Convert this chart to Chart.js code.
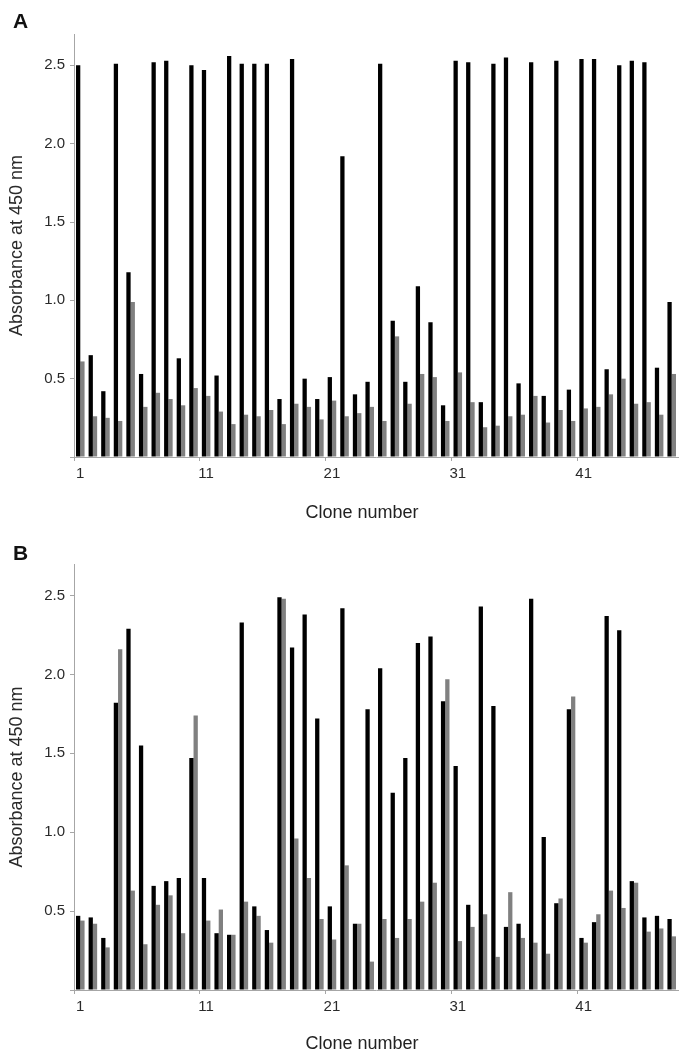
<!DOCTYPE html>
<html>
<head>
<meta charset="utf-8">
<script src="https://cdn.jsdelivr.net/npm/chart.js@4.4.1/dist/chart.umd.min.js"></script>
<style>
  body { margin: 0; background: #fff; font-family: "Liberation Sans", Arial, sans-serif; }
  #page { position: relative; width: 685px; height: 1058px; overflow: hidden; }
  canvas { position: absolute; left: 0; }
  .panel-label { position: absolute; left: 13px; font-weight: bold; font-size: 21px; line-height: 1; color: #111; }
  .x-title { position: absolute; left: 262px; width: 200px; text-align: center; font-size: 18px; line-height: 1; color: #222; }
</style>
</head>
<body>
<div id="page">
  <canvas id="chartA" width="685" height="530" style="top:0"></canvas>
  <canvas id="chartB" width="685" height="528" style="top:530px"></canvas>
  <div class="panel-label" style="top:10px">A</div>
  <div class="panel-label" style="top:542px">B</div>
  <div class="x-title" style="top:503px">Clone number</div>
  <div class="x-title" style="top:1034px">Clone number</div>
</div>
<script>
const CLONES = Array.from({ length: 48 }, (_, i) => String(i + 1));
const Y_TICKS = [0, 0.5, 1.0, 1.5, 2.0, 2.5];

// panel A
const A_BLACK = [
    2.50, 0.65, 0.42, 2.51, 1.18, 0.53, 2.52, 2.53, 0.63, 2.50,
    2.47, 0.52, 2.56, 2.51, 2.51, 2.51, 0.37, 2.54, 0.50, 0.37,
    0.51, 1.92, 0.40, 0.48, 2.51, 0.87, 0.48, 1.09, 0.86, 0.33,
    2.53, 2.52, 0.35, 2.51, 2.55, 0.47, 2.52, 0.39, 2.53, 0.43,
    2.54, 2.54, 0.56, 2.50, 2.53, 2.52, 0.57, 0.99,
];
const A_GRAY = [
    0.61, 0.26, 0.25, 0.23, 0.99, 0.32, 0.41, 0.37, 0.33, 0.44,
    0.39, 0.29, 0.21, 0.27, 0.26, 0.30, 0.21, 0.34, 0.32, 0.24,
    0.36, 0.26, 0.28, 0.32, 0.23, 0.77, 0.34, 0.53, 0.51, 0.23,
    0.54, 0.35, 0.19, 0.20, 0.26, 0.27, 0.39, 0.22, 0.30, 0.23,
    0.31, 0.32, 0.40, 0.50, 0.34, 0.35, 0.27, 0.53,
];

// panel B
const B_BLACK = [
    0.47, 0.46, 0.33, 1.82, 2.29, 1.55, 0.66, 0.69, 0.71, 1.47,
    0.71, 0.36, 0.35, 2.33, 0.53, 0.38, 2.49, 2.17, 2.38, 1.72,
    0.53, 2.42, 0.42, 1.78, 2.04, 1.25, 1.47, 2.20, 2.24, 1.83,
    1.42, 0.54, 2.43, 1.80, 0.40, 0.42, 2.48, 0.97, 0.55, 1.78,
    0.33, 0.43, 2.37, 2.28, 0.69, 0.46, 0.47, 0.45,
];
const B_GRAY = [
    0.44, 0.42, 0.27, 2.16, 0.63, 0.29, 0.54, 0.60, 0.36, 1.74,
    0.44, 0.51, 0.35, 0.56, 0.47, 0.30, 2.48, 0.96, 0.71, 0.45,
    0.32, 0.79, 0.42, 0.18, 0.45, 0.33, 0.45, 0.56, 0.68, 1.97,
    0.31, 0.40, 0.48, 0.21, 0.62, 0.33, 0.30, 0.23, 0.58, 1.86,
    0.30, 0.48, 0.63, 0.52, 0.68, 0.37, 0.39, 0.34,
];

const AXIS_COLOR = "#a6a6a6";
const TEXT_COLOR = "#2a2a2a";
const FONT = "'Liberation Sans', Arial, sans-serif";

function makePanel(canvasId, black, gray, padTop, padBottom) {
    return new Chart(document.getElementById(canvasId), {
        type: "bar",
        data: {
            labels: CLONES,
            datasets: [
                { data: black, backgroundColor: "#000000" },
                { data: gray, backgroundColor: "#808080" },
            ],
        },
        options: {
            responsive: false,
            animation: false,
            devicePixelRatio: 1,
            layout: { padding: { left: 0, right: 7, top: padTop, bottom: padBottom } },
            datasets: { bar: { categoryPercentage: 0.68, barPercentage: 1.0 } },
            plugins: { legend: { display: false }, tooltip: { enabled: false } },
            scales: {
                x: {
                    grid: {
                        offset: true,
                        drawOnChartArea: false,
                        tickLength: 4,
                        color: (c) => (c.index % 10 === 0 ? AXIS_COLOR : "rgba(0,0,0,0)"),
                    },
                    border: { color: AXIS_COLOR, width: 1 },
                    ticks: {
                        autoSkip: false,
                        maxRotation: 0,
                        padding: 4,
                        color: TEXT_COLOR,
                        font: { family: FONT, size: 15 },
                        callback: (v, i) => (i % 10 === 0 ? CLONES[i] : ""),
                    },
                    afterFit: (scale) => { scale.height = 30; },
                },
                y: {
                    min: 0,
                    max: 2.7,
                    afterBuildTicks: (scale) => { scale.ticks = Y_TICKS.map((v) => ({ value: v })); },
                    afterFit: (scale) => { scale.width = 74; },
                    grid: { drawOnChartArea: false, tickLength: 4, color: AXIS_COLOR },
                    border: { color: AXIS_COLOR, width: 1 },
                    ticks: {
                        padding: 5,
                        color: TEXT_COLOR,
                        font: { family: FONT, size: 15 },
                        callback: (v) => (v === 0 ? "" : Number(v).toFixed(1)),
                    },
                    title: {
                        display: true,
                        text: "Absorbance at 450 nm",
                        color: TEXT_COLOR,
                        font: { family: FONT, size: 18 },
                        padding: { top: 6, bottom: 0 },
                    },
                },
            },
        },
    });
}

makePanel("chartA", A_BLACK, A_GRAY, 34, 43);
makePanel("chartB", B_BLACK, B_GRAY, 34, 38);
</script>
</body>
</html>
